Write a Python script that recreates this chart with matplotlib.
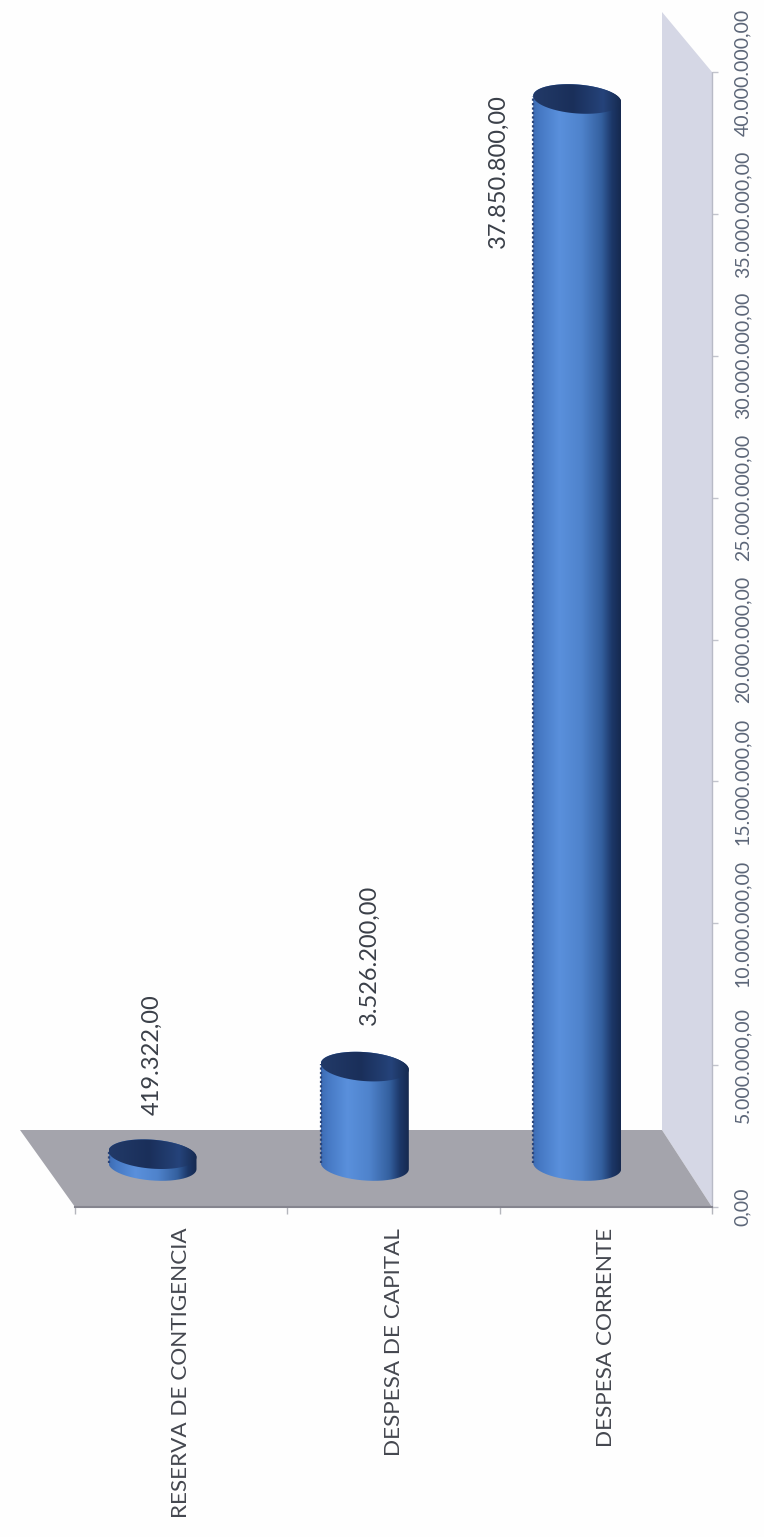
import numpy as np
import matplotlib
matplotlib.use("Agg")
import matplotlib.pyplot as plt
from matplotlib.colors import LinearSegmentedColormap
from matplotlib.patches import PathPatch, Polygon
from matplotlib.path import Path

categories = ["RESERVA DE CONTIGENCIA", "DESPESA DE CAPITAL", "DESPESA CORRENTE"]
values = [419322.00, 3526200.00, 37850800.00]
value_labels = ["419.322,00", "3.526.200,00", "37.850.800,00"]
value_ticks = [0, 5e6, 10e6, 15e6, 20e6, 25e6, 30e6, 35e6, 40e6]
value_tick_labels = ["0,00", "5.000.000,00", "10.000.000,00", "15.000.000,00", "20.000.000,00",
                     "25.000.000,00", "30.000.000,00", "35.000.000,00", "40.000.000,00"]

W, H = 764, 1537
plt.rcParams["font.family"] = ["Lato", "DejaVu Sans"]
fig = plt.figure(figsize=(W / 100, H / 100), dpi=100, facecolor="#fefefe")
L, R, T, B = 75, 712, 72, 1207
ax = fig.add_axes([L / W, (H - B) / H, (R - L) / W, (B - T) / H])
ax.set_facecolor("none")
ax.set_xlim(0, 3)
ax.set_ylim(0, 40e6)
PX = 3 / (R - L)            # data units per pixel, horizontal
PY = 40e6 / (B - T)         # data units per pixel, vertical

# floor and side wall, built from the axis limits plus the 3D depth
floor = [(0, 0), (3, 0), (3 - 50 * PX, 77 * PY), (0 - 55 * PX, 77 * PY)]
wall = [(3, 0), (3, 40e6), (3 - 50 * PX, 40e6 + 60 * PY), (3 - 50 * PX, 77 * PY)]
ax.add_patch(Polygon(wall, closed=True, fc="#d5d7e5", ec="none", clip_on=False, zorder=1))
ax.add_patch(Polygon(floor, closed=True, fc="#a4a4ac", ec="none", clip_on=False, zorder=2))

body_cmap = LinearSegmentedColormap.from_list("body", [
    (0.00, "#3d6cb4"), (0.08, "#4679c4"), (0.30, "#5a90dc"), (0.55, "#4f83cc"),
    (0.78, "#34609f"), (0.90, "#1c3768"), (1.00, "#16294f")])
top_cmap = LinearSegmentedColormap.from_list("top", [
    (0.00, "#223a68"), (0.45, "#1a2f5a"), (0.80, "#25437a"), (1.00, "#162a50")])
grad = np.linspace(0, 1, 256).reshape(1, -1)

half_w = 44      # pixels
semi_b = 14.5    # pixels
shear = 0.07     # ellipse tilt
base_offset = 41 # pixels between the axis zero and the bar's base centre
bar_shift = 0.365


def ellipse(cx, cy, start, stop, n=80):
    t = np.linspace(start, stop, n)
    ex = half_w * np.cos(t)
    ey = semi_b * np.sin(t) - shear * ex
    return cx + ex * PX, cy + ey * PY


base_y = base_offset * PY
for i, v in enumerate(values):
    cx = i + bar_shift
    top = base_y + v * 0.9935
    bx, by = ellipse(cx, base_y, np.pi, 2 * np.pi)
    tx, ty = ellipse(cx, top, 0, np.pi)
    px = np.r_[bx, tx, bx[0]]
    py = np.r_[by, ty, by[0]]
    path = Path(np.c_[px, py], closed=False)
    clip = PathPatch(path, fc="none", ec="none", zorder=3)
    ax.add_patch(clip)
    im = ax.imshow(grad, cmap=body_cmap, aspect="auto", zorder=3, interpolation="bilinear",
                   extent=(cx - half_w * PX, cx + half_w * PX, 0, top + 20 * PY))
    im.set_clip_path(clip)
    ax.plot([cx - half_w * PX] * 2, [base_y + shear * half_w * PY, top + shear * half_w * PY],
            color="#2b4478", lw=1.6, ls=(0, (1, 1)), zorder=4)
    ex, ey = ellipse(cx, top, 0, 2 * np.pi)
    cap = PathPatch(Path(np.c_[ex, ey]), fc="none", ec="none", zorder=5)
    ax.add_patch(cap)
    im2 = ax.imshow(grad, cmap=top_cmap, aspect="auto", zorder=5, interpolation="bilinear",
                    extent=(cx - half_w * PX, cx + half_w * PX, top - 20 * PY, top + 20 * PY))
    im2.set_clip_path(cap)
ax.set_xlim(0, 3)
ax.set_ylim(0, 40e6)

# data labels, rotated like the whole chart
label_dx = [0, 4, -79]          # pixels from the bar centre
label_dy = [100, 112, -72]      # pixels from the bar top
for i, (v, s) in enumerate(zip(values, value_labels)):
    cx = i + bar_shift
    ax.annotate(s, xy=(cx, base_y + v * 0.9935), xytext=(label_dx[i] * 0.72, label_dy[i] * 0.72),
                textcoords="offset points", rotation=90, ha="center", va="center",
                fontsize=17, color="#3a3f48", zorder=6)

# category axis
ax.set_xticks([0, 1, 2, 3])
ax.set_xticklabels([])
ax.set_xticks([0.5, 1.5, 2.5], minor=True)
ax.set_xticklabels(categories, minor=True, rotation=90, fontsize=16.2, color="#44474f", va="top", ha="center")
ax.tick_params(axis="x", which="major", length=5, width=1, color="#b4b6bc")
ax.tick_params(axis="x", which="minor", length=0, pad=15)

# value axis
ax.yaxis.tick_right()
ax.set_yticks(value_ticks)
ax.set_yticklabels(value_tick_labels, rotation=90, fontsize=14, color="#5c6678", va="center", ha="left")
ax.tick_params(axis="y", length=4, width=1, color="#c2c4cc", pad=12)

for side in ("left", "top"):
    ax.spines[side].set_visible(False)
ax.spines["bottom"].set_color("#85858f")
ax.spines["bottom"].set_linewidth(1.5)
ax.spines["right"].set_color("#b8bac6")
ax.spines["right"].set_linewidth(1)
ax.spines["right"].set_linestyle((0, (1, 1)))

fig.savefig("out.png", dpi=100, facecolor=fig.get_facecolor())
